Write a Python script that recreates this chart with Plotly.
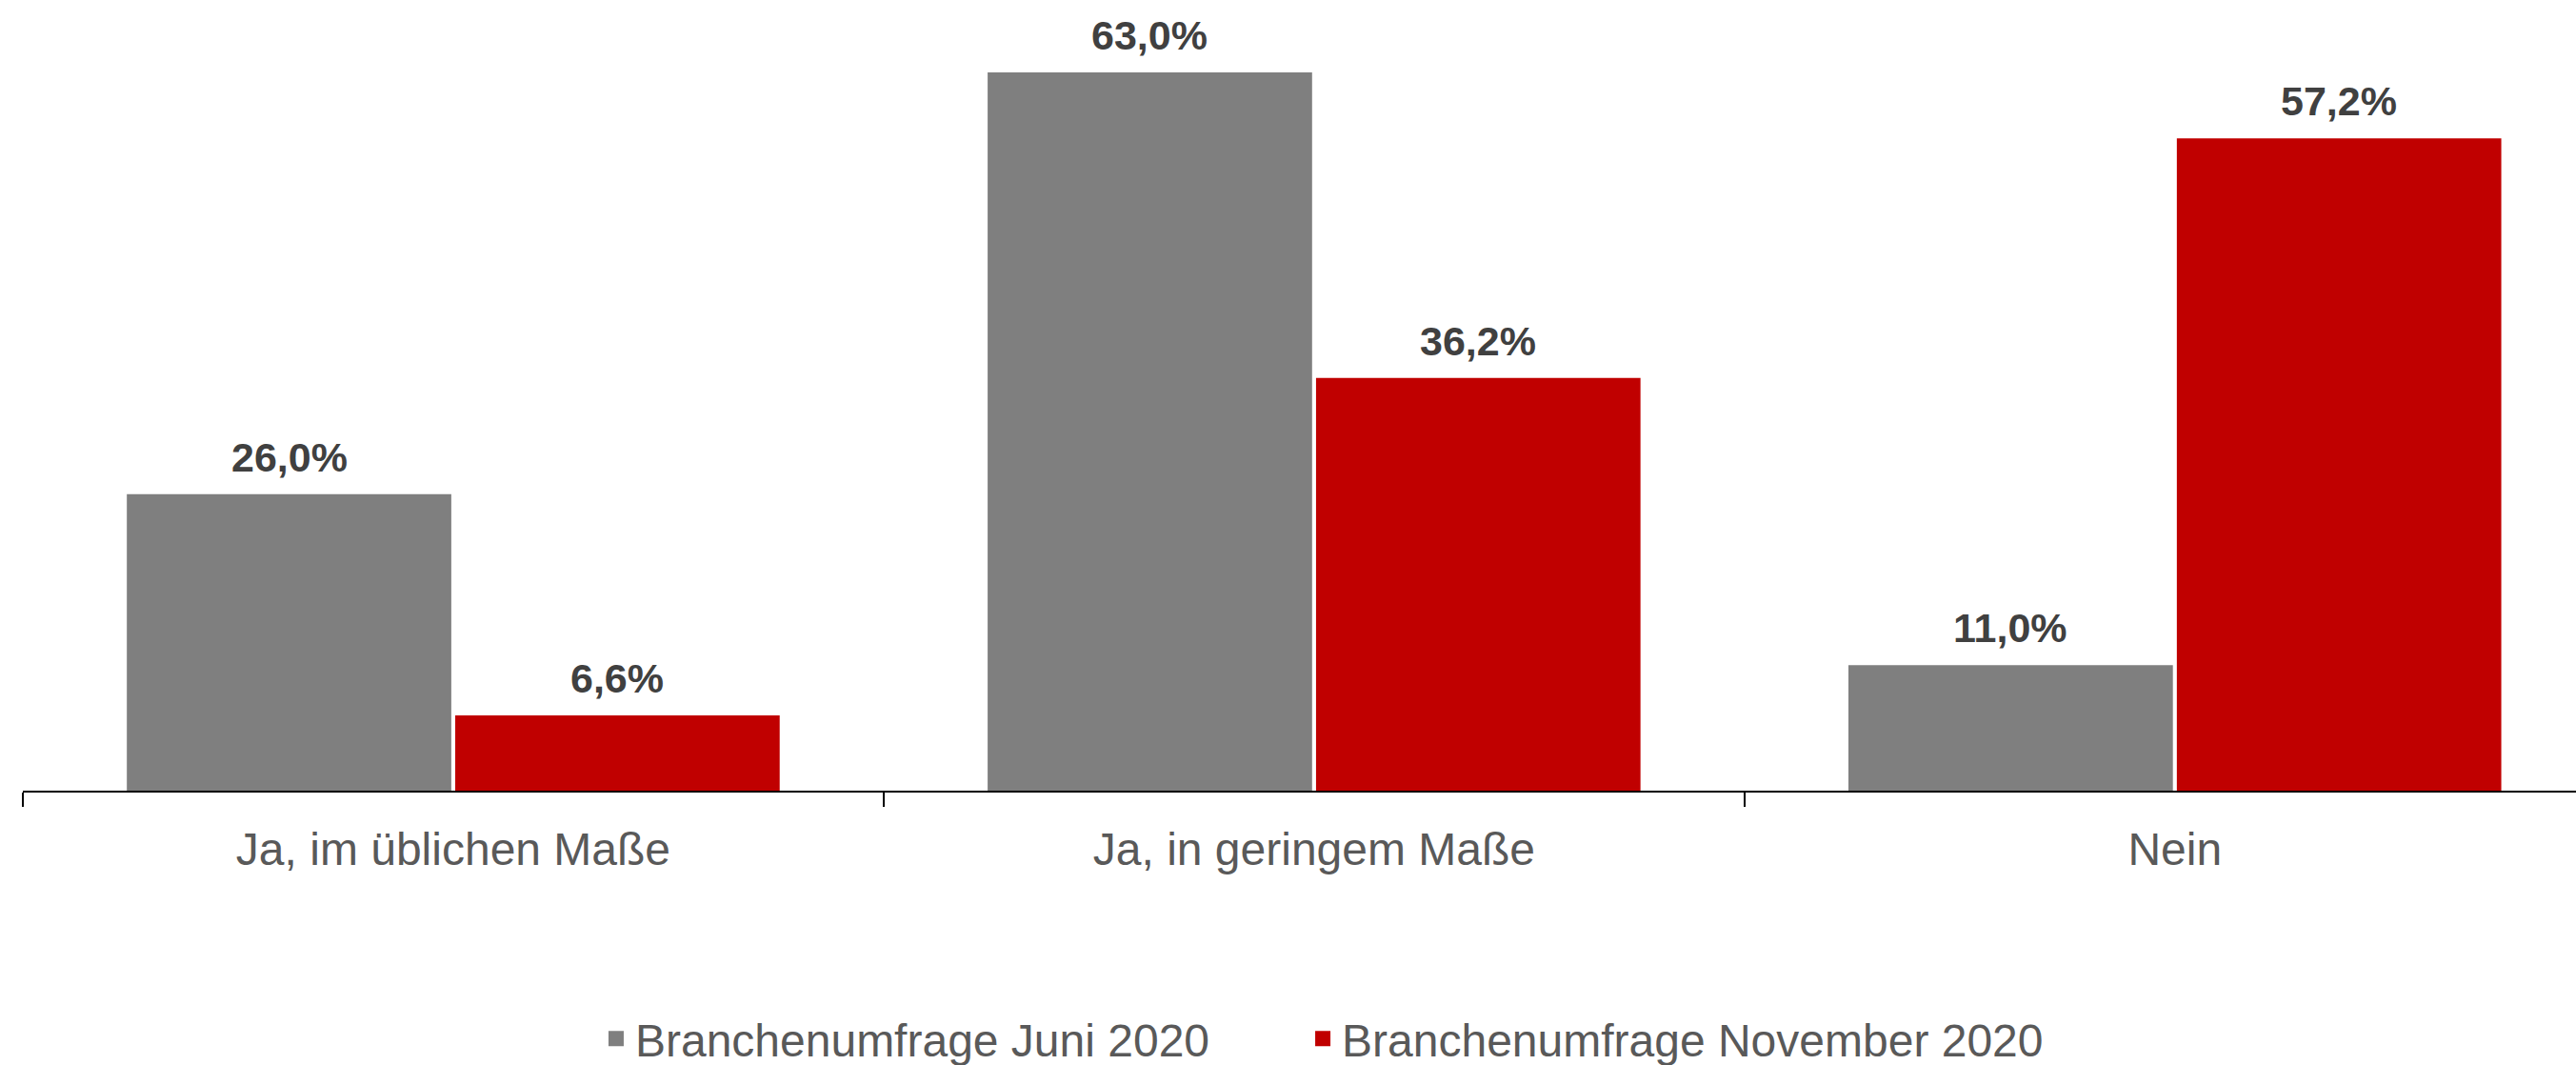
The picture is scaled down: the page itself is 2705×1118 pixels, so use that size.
import plotly.graph_objects as go

categories = ["Ja, im üblichen Maße", "Ja, in geringem Maße", "Nein"]
series_names = ["Branchenumfrage Juni 2020", "Branchenumfrage November 2020"]
juni_2020 = [26.0, 63.0, 11.0]
november_2020 = [6.6, 36.2, 57.2]
series_values = [juni_2020, november_2020]
series_colors = ["#7f7f7f", "#c00000"]

FONT = "Liberation Sans, Arial, sans-serif"

W, H = 2705, 1118
ML, MR, MT, MB = 24, 0, 0, 288
BARGAP = 0.237
X_RANGE = [-0.5, 2.466]
cat_px = (W - ML - MR) / (X_RANGE[1] - X_RANGE[0])
slot_shift = (1 - BARGAP) / len(series_values) / 2 * cat_px

fig = go.Figure()
legend_ids = ["legend", "legend2"]
for k, (name, vals, col) in enumerate(zip(series_names, series_values, series_colors)):
    fig.add_trace(go.Bar(
        x=categories, y=vals, name=name,
        marker=dict(color=col, line=dict(width=0)),
        cliponaxis=False, showlegend=False,
    ))
    fig.add_trace(go.Scatter(
        x=[None], y=[None], name=name, mode="markers",
        marker=dict(symbol="square", size=18, color=col),
        showlegend=True, legend=legend_ids[k],
    ))
    sign = -1 if k == 0 else 1
    for c, v in zip(categories, vals):
        fig.add_annotation(
            x=c, y=v, xref="x", yref="y",
            text=f"{v:.1f}%".replace(".", ","),
            showarrow=False, xanchor="center", yanchor="bottom",
            xshift=sign * slot_shift, yshift=13,
            font=dict(family=FONT, size=43, color="#404040", weight="bold"),
        )

leg_common = dict(
    orientation="h", xanchor="left", y=-0.314, yanchor="middle",
    font=dict(family=FONT, size=48, color="#595959"),
    bgcolor="rgba(0,0,0,0)",
)

fig.update_layout(
    width=W, height=H,
    margin=dict(l=ML, r=MR, t=MT, b=MB, autoexpand=False),
    paper_bgcolor="white", plot_bgcolor="white",
    font=dict(family=FONT, size=48, color="#595959"),
    barmode="group", bargap=BARGAP, bargroupgap=0.012,
    showlegend=True,
    legend=dict(x=0.2249, **leg_common),
    legend2=dict(x=0.5017, **leg_common),
    xaxis=dict(
        type="category", range=X_RANGE,
        showline=True, linecolor="#000000", linewidth=2,
        ticks="outside", ticklen=15, tickwidth=2, tickcolor="#000000",
        tickson="boundaries", ticklabelstandoff=18,
        showgrid=False, zeroline=False,
        tickfont=dict(family=FONT, size=48, color="#595959"),
    ),
    yaxis=dict(
        range=[0, 69.34], visible=False, showgrid=False, zeroline=False,
    ),
)

fig.write_html(
    "out.html",
    config={"displayModeBar": False},
    post_script="document.body.style.margin='0px';",
)
